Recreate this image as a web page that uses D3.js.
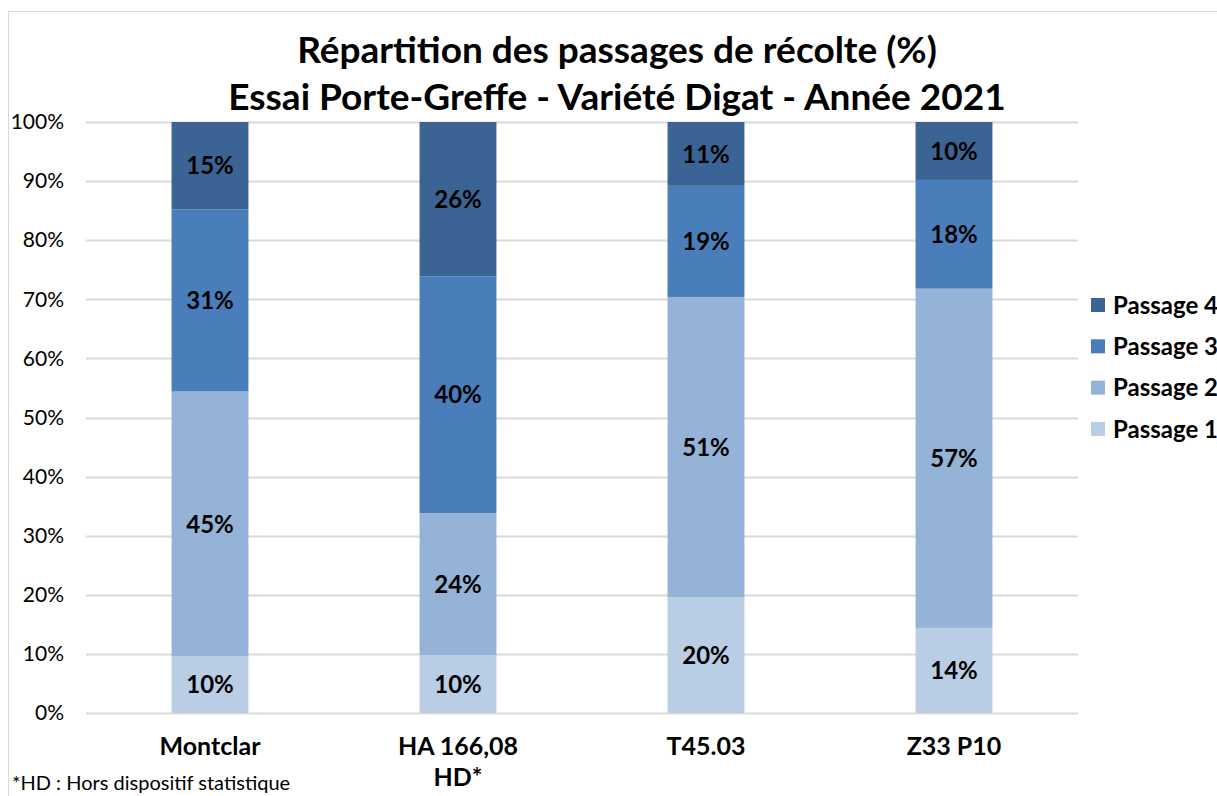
<!DOCTYPE html>
<html>
<head>
<meta charset="utf-8">
<script src="https://cdn.jsdelivr.net/npm/d3@7"></script>
<style>
  body { margin: 0; background: #fff; overflow: hidden; }
  text { font-family: Lato, "Open Sans", sans-serif; }
</style>
</head>
<body>
<div id="chart"></div>
<script>
// categories and series (percent of harvest per pass)
var categories = ['Montclar', 'HA 166,08\nHD*', 'T45.03', 'Z33 P10'];
var seriesNames = ['Passage 1', 'Passage 2', 'Passage 3', 'Passage 4'];
var passage1 = [9.6, 9.8, 19.6, 14.4];
var passage2 = [44.8, 24.0, 50.8, 57.4];
var passage3 = [30.8, 40.1, 18.8, 18.4];
var passage4 = [14.8, 26.1, 10.8, 9.8];
var yTicks = [0, 10, 20, 30, 40, 50, 60, 70, 80, 90, 100];
var colors = ['#b9cde5', '#95b3d7', '#4a7ebb', '#3b6494'];

var W = 1217, H = 796;
var margin = {top: 122, left: 86, right: 139, bottom: 83};
var width = W - margin.left - margin.right,
    height = H - margin.top - margin.bottom;

var svg = d3.select('#chart').append('svg')
    .attr('width', W).attr('height', H);

// outer chart border (cut by the window on the right and bottom)
svg.append('rect')
    .attr('x', 8.5).attr('y', 11.5)
    .attr('width', W + 20).attr('height', H + 20)
    .attr('fill', 'none').attr('stroke', '#d9d9d9');

// title
var title = svg.append('text')
    .attr('text-anchor', 'middle')
    .style('font-weight', 'bold').style('font-size', '37px');
title.append('tspan').attr('x', 617).attr('y', 63).text('Répartition des passages de récolte (%)');
title.append('tspan').attr('x', 617).attr('y', 110).text('Essai Porte-Greffe - Variété Digat - Année 2021');

var g = svg.append('g').attr('transform', 'translate(' + margin.left + ',' + margin.top + ')');

var x = d3.scaleBand().domain(categories).range([0, width]).paddingInner(0.69).paddingOuter(0.345);
var y = d3.scaleLinear().domain([0, 100]).range([height, 0]);

// gridlines
g.append('g').selectAll('line').data(yTicks).join('line')
    .attr('x1', 0).attr('x2', width)
    .attr('y1', function(d) { return Math.round(y(d)) + 0.5; })
    .attr('y2', function(d) { return Math.round(y(d)) + 0.5; })
    .attr('stroke', '#d9d9d9').attr('stroke-width', 2);

// y axis labels
var yAxis = d3.axisLeft(y).tickValues(yTicks).tickFormat(function(d) { return d + '%'; }).tickSize(0).tickPadding(22);
var ya = g.append('g').call(yAxis);
ya.select('.domain').remove();
ya.selectAll('text').style('font-size', '21px').style('font-family', 'Lato, sans-serif').attr('fill', '#000');

// stack
var rows = categories.map(function(c, i) {
  return {cat: c, 'Passage 1': passage1[i], 'Passage 2': passage2[i], 'Passage 3': passage3[i], 'Passage 4': passage4[i]};
});
var stacked = d3.stack().keys(seriesNames)(rows);

var layers = g.selectAll('.layer').data(stacked).join('g')
    .attr('class', 'layer')
    .attr('fill', function(d, i) { return colors[i]; });

layers.selectAll('rect').data(function(d) { return d; }).join('rect')
    .attr('x', function(d) { return x(d.data.cat); })
    .attr('width', x.bandwidth())
    .attr('y', function(d) { return y(d[1]); })
    .attr('height', function(d) { return y(d[0]) - y(d[1]); });

layers.selectAll('text').data(function(d) { return d; }).join('text')
    .attr('x', function(d) { return x(d.data.cat) + x.bandwidth() / 2; })
    .attr('y', function(d) { return (y(d[0]) + y(d[1])) / 2; })
    .attr('dy', '0.36em')
    .attr('text-anchor', 'middle')
    .attr('fill', '#000')
    .style('font-size', '24px').style('font-weight', 'bold')
    .text(function(d) { return Math.round(d[1] - d[0]) + '%'; });

// category labels
var xl = g.append('g').selectAll('text').data(categories).join('text')
    .attr('text-anchor', 'middle')
    .attr('y', height + 42)
    .style('font-size', '25px').style('font-weight', 'bold');
xl.each(function(c) {
  var t = d3.select(this);
  c.split('\n').forEach(function(s, k) {
    t.append('tspan').attr('x', x(c) + x.bandwidth() / 2).attr('dy', k === 0 ? 0 : 31).text(s);
  });
});

// legend
var legend = svg.append('g').selectAll('g').data(seriesNames.slice().reverse()).join('g')
    .attr('transform', function(d, i) { return 'translate(1091,' + (298 + i * 41.3) + ')'; });
legend.append('rect').attr('width', 14).attr('height', 14)
    .attr('fill', function(d) { return colors[seriesNames.indexOf(d)]; });
legend.append('text').attr('x', 22).attr('y', 7).attr('dy', '0.36em')
    .style('font-size', '24px').style('font-weight', 'bold').text(function(d) { return d; });

// footnote
svg.append('text').attr('x', 12).attr('y', 790)
    .style('font-size', '20px').text('*HD : Hors dispositif statistique');
</script>
</body>
</html>
